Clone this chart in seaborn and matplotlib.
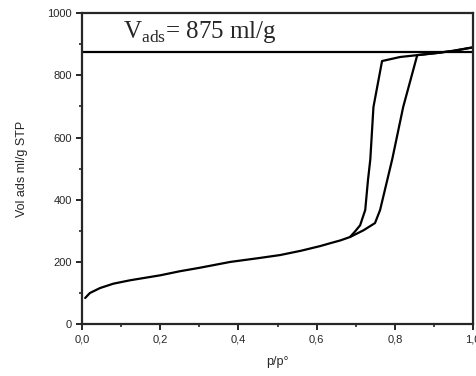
import numpy as np
import pandas as pd
import matplotlib
matplotlib.use("Agg")
import matplotlib.pyplot as plt
import seaborn as sns
from matplotlib.ticker import MultipleLocator, FuncFormatter

# adsorption branch
ads_p = [0.008, 0.02, 0.046, 0.08, 0.123, 0.2, 0.25, 0.3, 0.379, 0.45, 0.506, 0.56,
         0.609, 0.634, 0.66, 0.685, 0.72, 0.749, 0.762, 0.793, 0.821, 0.857,
         0.908, 0.95, 0.985, 1.0]
ads_v = [84, 100, 116, 130, 141, 157, 170, 181, 200, 212, 222, 236,
         251, 260, 269, 280, 302, 325, 367, 530, 698, 865,
         872, 879, 887, 890]

# desorption branch
des_p = [1.0, 0.95, 0.908, 0.857, 0.813, 0.767, 0.745, 0.737, 0.731, 0.724, 0.711, 0.698, 0.685]
des_v = [890, 879, 872, 865, 859, 846, 698, 530, 463, 367, 318, 298, 280]

v_ads = 875

sns.set_style("ticks")
plt.rcParams['font.family'] = ['Liberation Sans', 'DejaVu Sans']
plt.rcParams['mathtext.fontset'] = 'custom'
plt.rcParams['mathtext.rm'] = 'Liberation Serif'

fig = plt.figure(figsize=(4.77, 3.76), dpi=100)
ax = fig.add_axes([0.172, 0.138, 0.820, 0.827])

ads = pd.DataFrame({'p': ads_p, 'v': ads_v})
des = pd.DataFrame({'p': des_p, 'v': des_v})
sns.lineplot(data=ads, x='p', y='v', sort=False, color='black', lw=1.6, ax=ax)
sns.lineplot(data=des, x='p', y='v', sort=False, color='black', lw=1.6, ax=ax)

ax.axhline(v_ads, color='black', lw=1.6)
ax.text(0.105, 940, r'$\mathrm{V}_{\mathrm{ads}}$= 875 ml/g', fontsize=18,
        family='Liberation Serif', va='center', ha='left')

ax.set_xlim(0, 1.0)
ax.set_ylim(0, 1000)
ax.xaxis.set_major_locator(MultipleLocator(0.2))
ax.xaxis.set_minor_locator(MultipleLocator(0.1))
ax.yaxis.set_major_locator(MultipleLocator(200))
ax.yaxis.set_minor_locator(MultipleLocator(100))
ax.xaxis.set_major_formatter(FuncFormatter(lambda x, pos: f"{x:.1f}".replace('.', ',')))

for s in ax.spines.values():
    s.set_linewidth(1.6)
ax.tick_params(which='major', direction='out', length=4, width=1.4, labelsize=8)
ax.tick_params(which='minor', direction='out', length=2.5, width=1.2)

ax.set_xlabel('p/p°', fontsize=9, labelpad=8)
ax.set_ylabel('Vol ads ml/g STP', fontsize=9, labelpad=14)

plt.savefig('out.png', dpi=100)
plt.close()
